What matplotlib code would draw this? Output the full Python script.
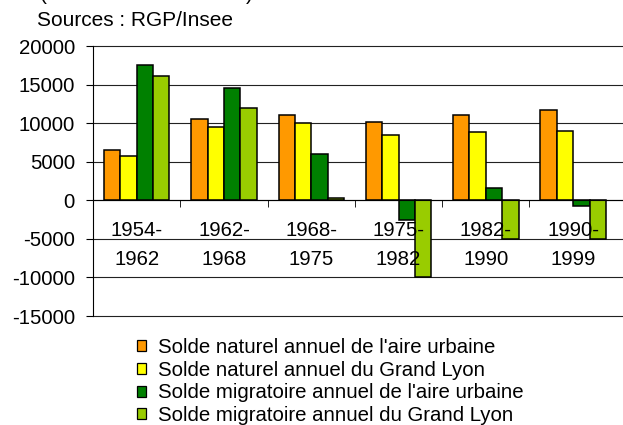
import numpy as np
import matplotlib.pyplot as plt
from matplotlib.patches import Patch

plt.rcParams['font.family'] = ['Liberation Sans', 'DejaVu Sans']
plt.rcParams['axes.unicode_minus'] = False

periodes = ["1954-\n1962", "1962-\n1968", "1968-\n1975", "1975-\n1982", "1982-\n1990", "1990-\n1999"]
naturel_aire = [6500, 10600, 11100, 10100, 11100, 11700]
naturel_lyon = [5700, 9500, 10000, 8500, 8800, 9000]
migratoire_aire = [17600, 14500, 6000, -2600, 1600, -800]
migratoire_lyon = [16100, 11900, 300, -10000, -5000, -5000]
graduations = [-15000, -10000, -5000, 0, 5000, 10000, 15000, 20000]

series = [naturel_aire, naturel_lyon, migratoire_aire, migratoire_lyon]
noms = ["Solde naturel annuel de l'aire urbaine",
        "Solde naturel annuel du Grand Lyon",
        "Solde migratoire annuel de l'aire urbaine",
        "Solde migratoire annuel du Grand Lyon"]
couleurs = ['#FF9900', '#FFFF00', '#008000', '#99CC00']

fs = 14.7
fig = plt.figure(figsize=(6.23, 4.25), dpi=100)
ax = fig.add_axes([93/623, 1 - 316/425, 1 - 93/623, (316 - 46)/425])
ax.set_axisbelow(False)

x = np.arange(len(periodes))
w = 0.1875
for i, (vals, c) in enumerate(zip(series, couleurs)):
    ax.bar(x + (i - 1.5) * w, vals, w, color=c, edgecolor='black', linewidth=1.1, zorder=2)

# quadrillage derriere les barres
for g in graduations:
    ax.axhline(g, color='#222222', linewidth=0.8, zorder=0, clip_on=False)

ax.set_ylim(-15000, 20000)
ax.set_yticks(graduations)
ax.set_xlim(-0.5, (623 - 93) / 87.3 - 0.5)

ax.spines['right'].set_visible(False)
ax.spines['top'].set_visible(False)
ax.spines['bottom'].set_position(('data', 0))

ax.set_xticks(x)
ax.set_xticklabels(periodes, fontsize=fs, linespacing=1.68)
ax.set_xticks(np.arange(0.5, 5.0, 1.0), minor=True)
ax.tick_params(axis='x', which='major', length=0, pad=15)
ax.tick_params(axis='x', which='minor', length=5, direction='out')
ax.tick_params(axis='y', length=5, pad=8, labelsize=fs)

fig.text(40/623, 1.0, "(", fontsize=15, va='baseline')
fig.text(246/623, 1.0, ")", fontsize=15, va='baseline')
fig.text(37/623, 1 - 26/425, "Sources : RGP/Insee", fontsize=15, va='baseline')

handles = [Patch(facecolor=c, edgecolor='black', linewidth=0.9) for c in couleurs]
fig.legend(handles, noms, loc='upper left', bbox_to_anchor=(137/623, 1 - 338/425),
           frameon=False, fontsize=fs, handlelength=0.45, handleheight=0.45,
           handletextpad=0.6, labelspacing=0.18, borderpad=0, borderaxespad=0)

fig.savefig('out.png', dpi=100)
